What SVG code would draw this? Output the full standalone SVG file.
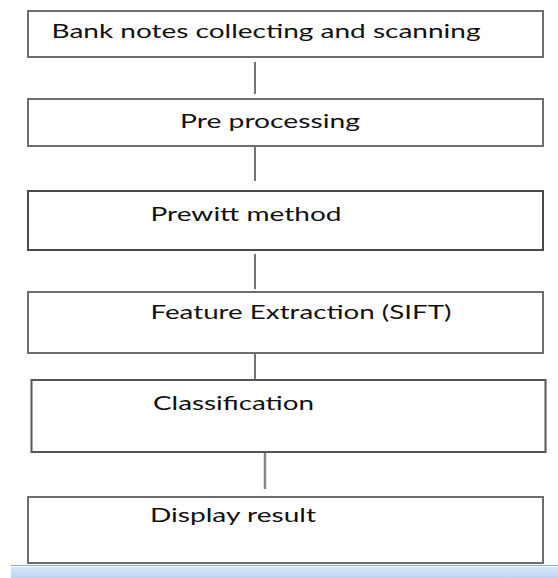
<svg xmlns="http://www.w3.org/2000/svg" width="558" height="578" viewBox="0 0 558 578">
<defs>
<linearGradient id="band" x1="0" y1="0" x2="0" y2="1">
<stop offset="0" stop-color="#d6e6fa"/>
<stop offset="1" stop-color="#bcd4f3"/>
</linearGradient>
</defs>
<style>
.box{fill:#ffffff;stroke:#6e6e6e;stroke-width:2}
.lbl{font-family:Lato,"Open Sans","Liberation Sans",sans-serif;font-size:20px;fill:#111111}
.conn{stroke:#444444;stroke-width:1.5;fill:none}
</style>
<rect width="558" height="578" fill="#ffffff"/>
<g id="connectors">
<line class="conn" x1="255" y1="62" x2="255" y2="94"/>
<line class="conn" x1="255" y1="147" x2="255" y2="181"/>
<line class="conn" x1="255" y1="254" x2="255" y2="289"/>
<line class="conn" x1="255" y1="354" x2="255" y2="380"/>
<line x1="265" y1="453" x2="265" y2="489" stroke="#858585" stroke-width="2.5"/>
</g>
<g id="n1">
<rect class="box" x="28" y="11" width="515" height="46"/>
<text class="lbl" x="51.5" y="38" textLength="429" lengthAdjust="spacingAndGlyphs">Bank notes collecting and scanning</text>
</g>
<g id="n2">
<rect class="box" x="28" y="99" width="515" height="47"/>
<text class="lbl" x="180" y="128" textLength="180" lengthAdjust="spacingAndGlyphs">Pre processing</text>
</g>
<g id="n3">
<rect class="box" x="28" y="191" width="515" height="59" style="stroke:#4a4a4a"/>
<text class="lbl" x="150.5" y="221" textLength="191" lengthAdjust="spacingAndGlyphs">Prewitt method</text>
</g>
<g id="n4">
<rect class="box" x="28" y="292" width="515" height="61"/>
<text class="lbl" x="150.5" y="319" textLength="301" lengthAdjust="spacingAndGlyphs">Feature Extraction (SIFT)</text>
</g>
<g id="n5">
<rect class="box" x="31.5" y="380" width="514" height="72" style="stroke:#555555"/>
<text class="lbl" x="153" y="410" textLength="161" lengthAdjust="spacingAndGlyphs">Classification</text>
</g>
<g id="n6">
<rect class="box" x="28" y="497" width="515" height="66"/>
<text class="lbl" x="150" y="522" textLength="166" lengthAdjust="spacingAndGlyphs">Display result</text>
</g>
<line x1="11" y1="565.5" x2="558" y2="565.5" stroke="#8aa6d2" stroke-width="1.2"/>
<rect x="11" y="567" width="547" height="11" fill="url(#band)"/>
</svg>
